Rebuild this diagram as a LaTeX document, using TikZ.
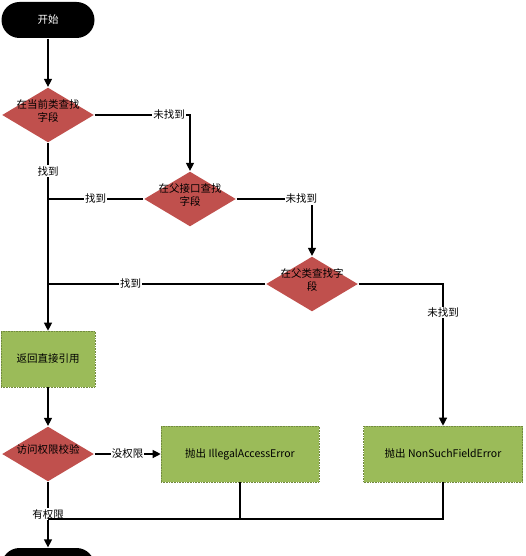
\documentclass[tikz,border=0pt]{standalone}
\usepackage{fontspec}
\setmainfont{Noto Sans CJK SC}
\usetikzlibrary{shapes.geometric,arrows.meta}
\definecolor{decred}{HTML}{C0504D}
\definecolor{boxgreen}{HTML}{9BBB59}
\definecolor{boxedge}{HTML}{71893F}
\newcommand{\fitin}[1]{\makebox[0pt]{\smash{\begin{tabular}{@{}c@{}}#1\end{tabular}}}}
\begin{document}
\begin{tikzpicture}[x=1pt, y=-1pt, line width=1.2pt,
    >={Triangle[length=8pt,width=8pt]},
    font=\fontsize{10.5}{12.5}\selectfont,
    terminal/.style={rectangle, rounded corners=18pt, fill=black, text=white,
      minimum width=93pt, minimum height=36pt, inner sep=0pt},
    decision/.style={diamond, fill=decred, minimum width=92pt, minimum height=55pt, inner sep=0pt},
    process/.style={rectangle, fill=boxgreen, draw=boxedge, densely dotted, line width=0.6pt,
      minimum height=56pt, inner sep=0pt},
    lbl/.style={fill=white, inner sep=1pt}]
  \useasboundingbox (0,0) rectangle (525,556);

  \node[terminal] (start) at (48,20) {开始};
  \node[decision] (cur) at (48,115) {\fitin{在当前类查找\\字段}};
  \node[decision] (iface) at (190,199) {\fitin{在父接口查找\\字段}};
  \node[decision] (super) at (312,284) {\fitin{在父类查找字\\段}};
  \node[process, minimum width=94pt] (ret) at (48,359) {返回直接引用};
  \node[decision] (access) at (48,454) {\fitin{访问权限校验}};
  \node[process, minimum width=158pt] (illegal) at (240,454) {抛出 IllegalAccessError};
  \node[process, minimum width=159pt] (nofield) at (443,454) {抛出 NonSuchFieldError};
  \node[terminal] (stop) at (48,566) {};

  \coordinate (j2) at (48,199);
  \coordinate (j3) at (48,284);
  \coordinate (j4) at (48,519);
  \coordinate (j5) at (240,519);

  \draw[->] (start) -- (cur);
  \draw[->] (cur.east) -| node[lbl, pos=0.39] (nf1) {未找到} (iface.north);
  \draw[->] (iface.east) -| node[lbl, pos=0.43] (nf2) {未找到} (super.north);
  \draw[->] (super.east) -| node[lbl, pos=0.6] (nf3) {未找到} (nofield.north);
  \draw[->] (cur.south) -- node[lbl, pos=0.15] (f1) {找到} (ret.north);
  \draw (iface.west) -- node[lbl] (f2) {找到} (j2);
  \draw (super.west) -- node[lbl, pos=0.62] (f3) {找到} (j3);
  \draw[->] (ret) -- (access);
  \draw[->] (access.east) -- node[lbl] (deny) {没权限} (illegal.west);
  \draw[->] (access.south) -- node[lbl, pos=0.49] (allow) {有权限} (stop.north);
  \draw (illegal.south) |- (j4);
  \draw (nofield.south) |- (j5);
\end{tikzpicture}
\end{document}
